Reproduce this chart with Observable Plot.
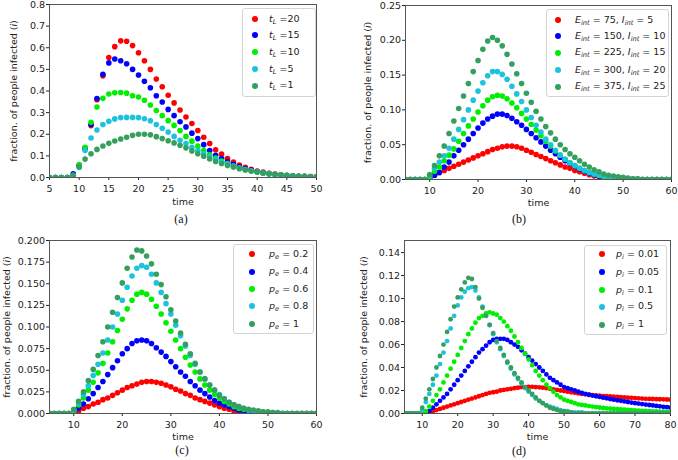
<!DOCTYPE html>
<html><head><meta charset="utf-8">
<script src="https://cdn.jsdelivr.net/npm/d3@7"></script>
<script src="https://cdn.jsdelivr.net/npm/@observablehq/plot@0.6"></script>
<style>
body{margin:0;background:#fff;}
#root{position:relative;width:678px;height:460px;font-family:"DejaVu Sans",sans-serif;overflow:hidden;}
.panel{position:absolute;}
.legend{position:absolute;border:1px solid #d4d4d4;border-radius:3px;background:rgba(255,255,255,0.85);box-sizing:border-box;}
.row{position:absolute;white-space:nowrap;font-size:9.5px;line-height:12px;color:#222;}
.row sub{font-size:70%;vertical-align:-0.3em;line-height:0;}
.sw{position:absolute;width:6px;height:6px;border-radius:50%;}
.cap{position:absolute;font-family:"Liberation Serif",serif;font-size:12px;line-height:13px;color:#111;transform:translate(-50%,-50%);}
</style></head>
<body><div id="root"></div>
<script>
// ---------- data ----------
const colors = ["#ff0000", "#0000ff", "#00ee00", "#1cc3de", "#35a05e"];

// (a) t = 5..50
const startA = 5;
const aRed    = [0,0,0,0,0.01,0.055,0.135,0.24,0.36,0.47,0.555,0.605,0.632,0.63,0.61,0.577,0.54,0.5,0.455,0.42,0.38,0.345,0.312,0.28,0.25,0.217,0.186,0.157,0.128,0.108,0.088,0.071,0.058,0.047,0.038,0.03,0.025,0.02,0.016,0.013,0.01,0.008,0.006,0.005,0.004,0.003];
const aBlue   = [0,0,0,0,0.017,0.055,0.135,0.245,0.365,0.477,0.53,0.548,0.54,0.526,0.5,0.474,0.445,0.415,0.378,0.349,0.315,0.286,0.258,0.234,0.205,0.18,0.152,0.125,0.103,0.088,0.073,0.061,0.05,0.041,0.034,0.027,0.022,0.018,0.014,0.011,0.009,0.007,0.005,0.004,0.003,0.002];
const aGreen  = [0,0,0,0,0.01,0.06,0.14,0.255,0.326,0.366,0.386,0.392,0.393,0.39,0.378,0.372,0.357,0.335,0.31,0.286,0.263,0.241,0.217,0.19,0.168,0.145,0.125,0.105,0.09,0.076,0.064,0.053,0.044,0.037,0.03,0.025,0.02,0.017,0.013,0.011,0.009,0.007,0.005,0.004,0.003,0.002];
const aCyan   = [0,0,0,0,0.008,0.046,0.125,0.183,0.22,0.245,0.26,0.271,0.277,0.278,0.278,0.277,0.272,0.262,0.245,0.228,0.21,0.19,0.172,0.157,0.14,0.125,0.11,0.096,0.083,0.072,0.062,0.052,0.044,0.037,0.031,0.025,0.021,0.017,0.014,0.011,0.009,0.007,0.005,0.004,0.003,0.002];
const aDgreen = [0,0,0,0,0.01,0.05,0.085,0.11,0.13,0.146,0.158,0.169,0.178,0.186,0.195,0.2,0.2,0.198,0.189,0.18,0.17,0.16,0.149,0.137,0.123,0.11,0.098,0.086,0.074,0.065,0.056,0.048,0.041,0.035,0.03,0.025,0.021,0.017,0.014,0.011,0.009,0.007,0.006,0.005,0.004,0.003];

// (b) t = 5..60
const startB = 5;
const bRed    = [0,0,0,0,0, 0.002,0.006,0.01,0.013,0.016, 0.019,0.022,0.025,0.028,0.031, 0.034,0.037,0.04,0.043,0.045, 0.047,0.048,0.048,0.047,0.045, 0.042,0.039,0.036,0.033,0.03, 0.027,0.024,0.021,0.018,0.016, 0.013,0.011,0.009,0.007,0.005, 0.004,0.003,0.002,0.001,0.001, 0,0,0,0,0, 0,0,0,0,0, 0];
const bBlue   = [0,0,0,0,0, 0.002,0.006,0.01,0.018,0.025, 0.034,0.042,0.05,0.058,0.066, 0.074,0.081,0.087,0.091,0.094, 0.094,0.092,0.088,0.083,0.078, 0.072,0.066,0.06,0.054,0.048, 0.042,0.037,0.032,0.027,0.023, 0.019,0.015,0.012,0.009,0.007, 0.005,0.004,0.003,0.002,0.001, 0.001,0,0,0,0, 0,0,0,0,0, 0];
const bGreen  = [0,0,0,0,0, 0.004,0.012,0.018,0.027,0.035, 0.044,0.055,0.066,0.077,0.087, 0.097,0.106,0.114,0.119,0.121, 0.12,0.116,0.11,0.103,0.095, 0.087,0.079,0.071,0.063,0.055, 0.048,0.041,0.035,0.029,0.024, 0.02,0.016,0.013,0.01,0.008, 0.006,0.004,0.003,0.002,0.002, 0.001,0.001,0,0,0, 0,0,0,0,0, 0];
const bCyan   = [0,0,0,0,0, 0.006,0.016,0.025,0.034,0.045, 0.058,0.072,0.086,0.1,0.114, 0.127,0.139,0.149,0.155,0.155, 0.151,0.144,0.134,0.123,0.112, 0.1,0.089,0.078,0.068,0.058, 0.05,0.042,0.035,0.029,0.024, 0.02,0.016,0.013,0.01,0.008, 0.006,0.005,0.004,0.003,0.002, 0.002,0.001,0.001,0.001,0, 0,0,0,0,0, 0];
const bDgreen = [0,0,0,0,0, 0.007,0.02,0.034,0.048,0.066, 0.084,0.102,0.12,0.138,0.155, 0.171,0.187,0.199,0.204,0.2, 0.192,0.18,0.166,0.152,0.138, 0.124,0.111,0.098,0.087,0.076, 0.067,0.058,0.05,0.043,0.037, 0.032,0.027,0.022,0.018,0.014, 0.011,0.008,0.006,0.005,0.004, 0.003,0.002,0.001,0.001,0, 0,0,0,0,0, 0];

// (c) t = 5..60
const startC = 5;
const cRed    = [0,0,0,0,0, 0.001,0.003,0.006,0.008,0.011, 0.013,0.016,0.018,0.021,0.024, 0.027,0.03,0.032,0.034,0.036, 0.037,0.037,0.036,0.035,0.033, 0.031,0.028,0.026,0.023,0.021, 0.018,0.016,0.014,0.012,0.01, 0.008,0.006,0.005,0.003,0.002, 0.002,0.001,0.001,0,0, 0,0,0,0,0, 0,0,0,0,0, 0];
const cBlue   = [0,0,0,0,0, 0.002,0.006,0.011,0.017,0.023, 0.03,0.037,0.045,0.053,0.061, 0.069,0.075,0.081,0.084,0.085, 0.084,0.081,0.076,0.071,0.066, 0.06,0.054,0.048,0.043,0.037, 0.032,0.027,0.023,0.019,0.015, 0.012,0.01,0.008,0.006,0.004, 0.003,0.002,0.001,0.001,0, 0,0,0,0,0, 0,0,0,0,0, 0];
const cGreen  = [0,0,0,0,0, 0.003,0.01,0.018,0.027,0.036, 0.047,0.058,0.07,0.083,0.096, 0.109,0.121,0.131,0.138,0.14, 0.138,0.132,0.124,0.115,0.105, 0.095,0.085,0.075,0.065,0.056, 0.048,0.04,0.033,0.027,0.022, 0.018,0.014,0.011,0.008,0.006, 0.005,0.004,0.003,0.002,0.001, 0.001,0,0,0,0, 0,0,0,0,0, 0];
const cCyan   = [0,0,0,0,0, 0.004,0.012,0.022,0.032,0.044, 0.057,0.07,0.085,0.1,0.115, 0.131,0.146,0.159,0.168,0.171, 0.169,0.161,0.151,0.14,0.127, 0.115,0.102,0.09,0.078,0.067, 0.057,0.048,0.04,0.033,0.027, 0.022,0.017,0.013,0.01,0.008, 0.006,0.004,0.003,0.002,0.002, 0.001,0.001,0,0,0, 0,0,0,0,0, 0];
const cDgreen = [0,0,0,0,0, 0.005,0.014,0.025,0.038,0.051, 0.067,0.083,0.1,0.117,0.134, 0.151,0.168,0.181,0.189,0.188, 0.182,0.173,0.161,0.149,0.135, 0.12,0.107,0.093,0.08,0.069, 0.058,0.048,0.04,0.033,0.027, 0.021,0.017,0.013,0.01,0.008, 0.006,0.005,0.004,0.003,0.002, 0.002,0.001,0.001,0,0, 0,0,0,0,0, 0];

// (d) t = 5..80
const startD = 5;
const dRed    = [0,0,0,0,0, 0,0,0.001,0.002,0.003, 0.004,0.005,0.006,0.007,0.008, 0.009,0.01,0.011,0.012,0.013, 0.014,0.015,0.016,0.017,0.018, 0.0185,0.019,0.02,0.0205,0.021, 0.0215,0.022,0.0225,0.023,0.023, 0.0232,0.0232,0.023,0.0228,0.0225, 0.022,0.0215,0.021,0.0205,0.02, 0.0195,0.019,0.0185,0.018,0.0175, 0.017,0.0167,0.0163,0.016,0.0157, 0.0155,0.0152,0.015,0.0148,0.0146, 0.0144,0.0142,0.014,0.0138,0.0136, 0.0134,0.0132,0.013,0.0128,0.0127, 0.0126,0.0125,0.0124,0.0123,0.0122, 0.012];
const dBlue   = [0,0,0,0,0, 0,0,0.002,0.005,0.008, 0.011,0.014,0.017,0.021,0.025, 0.029,0.033,0.037,0.041,0.045, 0.049,0.053,0.056,0.059,0.062, 0.064,0.065,0.065,0.065,0.064, 0.062,0.06,0.058,0.055,0.052, 0.049,0.046,0.043,0.04,0.037, 0.034,0.031,0.029,0.027,0.025, 0.023,0.022,0.021,0.02,0.019, 0.018,0.017,0.0163,0.0156,0.015, 0.0144,0.0138,0.0132,0.0126,0.012, 0.0115,0.011,0.0105,0.01,0.0095, 0.009,0.0086,0.0082,0.0078,0.0074, 0.007,0.0066,0.0062,0.0058,0.0055, 0.0052];
const dGreen  = [0,0,0,0,0, 0,0.002,0.006,0.011,0.016, 0.021,0.027,0.033,0.039,0.045, 0.051,0.057,0.063,0.069,0.074, 0.079,0.083,0.085,0.087,0.088, 0.087,0.086,0.083,0.08,0.076, 0.072,0.067,0.062,0.057,0.052, 0.047,0.042,0.037,0.033,0.029, 0.025,0.022,0.019,0.016,0.014, 0.012,0.011,0.01,0.009,0.008, 0.0075,0.007,0.0065,0.006,0.0056, 0.0052,0.0048,0.0045,0.0042,0.004, 0.0037,0.0035,0.0033,0.0031,0.0029, 0.0027,0.0025,0.0023,0.0022,0.002, 0.0019,0.0018,0.0017,0.0016,0.0015, 0.0014];
const dCyan   = [0,0,0,0,0, 0.003,0.01,0.017,0.025,0.033, 0.043,0.053,0.063,0.074,0.085, 0.094,0.101,0.106,0.109,0.11, 0.107,0.101,0.093,0.085,0.077, 0.069,0.062,0.056,0.05,0.044, 0.039,0.034,0.03,0.026,0.022, 0.019,0.016,0.013,0.011,0.009, 0.007,0.006,0.005,0.004,0.003, 0.002,0.002,0.001,0.001,0.001, 0.001,0,0,0,0, 0,0,0,0,0, 0,0,0,0,0, 0,0,0,0,0, 0,0,0,0,0, 0];
const dDgreen = [0,0,0,0,0, 0.005,0.013,0.021,0.03,0.04, 0.05,0.06,0.071,0.082,0.093, 0.101,0.108,0.114,0.118,0.117, 0.11,0.1,0.092,0.085,0.077, 0.07,0.063,0.057,0.051,0.045, 0.04,0.035,0.031,0.027,0.023, 0.02,0.017,0.014,0.011,0.009, 0.007,0.005,0.004,0.003,0.002, 0.002,0.001,0.001,0,0, 0,0,0,0,0, 0,0,0,0,0, 0,0,0,0,0, 0,0,0,0,0, 0,0,0,0,0, 0];

// ticks
const xTicksA = [5,10,15,20,25,30,35,40,45,50];
const yTicksA = [0,0.1,0.2,0.3,0.4,0.5,0.6,0.7,0.8];
const xTicksB = [10,20,30,40,50,60];
const yTicksB = [0,0.05,0.1,0.15,0.2,0.25];
const xTicksC = [10,20,30,40,50,60];
const yTicksC = [0,0.025,0.05,0.075,0.1,0.125,0.15,0.175,0.2];
const xTicksD = [10,20,30,40,50,60,70,80];
const yTicksD = [0,0.02,0.04,0.06,0.08,0.1,0.12,0.14];

// legend labels
const legendA = ["<i>t</i><sub><i>L</i></sub> =20","<i>t</i><sub><i>L</i></sub> =15","<i>t</i><sub><i>L</i></sub> =10","<i>t</i><sub><i>L</i></sub> =5","<i>t</i><sub><i>L</i></sub> =1"];
const legendB = [
  "<i>E<sub>int</sub></i> = 75, <i>I<sub>int</sub></i> = 5",
  "<i>E<sub>int</sub></i> = 150, <i>I<sub>int</sub></i> = 10",
  "<i>E<sub>int</sub></i> = 225, <i>I<sub>int</sub></i> = 15",
  "<i>E<sub>int</sub></i> = 300, <i>I<sub>int</sub></i> = 20",
  "<i>E<sub>int</sub></i> = 375, <i>I<sub>int</sub></i> = 25"];
const legendC = ["<i>p<sub>e</sub></i> = 0.2","<i>p<sub>e</sub></i> = 0.4","<i>p<sub>e</sub></i> = 0.6","<i>p<sub>e</sub></i> = 0.8","<i>p<sub>e</sub></i> = 1"];
const legendD = ["<i>p<sub>i</sub></i> = 0.01","<i>p<sub>i</sub></i> = 0.05","<i>p<sub>i</sub></i> = 0.1","<i>p<sub>i</sub></i> = 0.5","<i>p<sub>i</sub></i> = 1"];

const yLabel = "fraction. of people infected (i)";
const xLabel = "time";
const captions = ["(a)","(b)","(c)","(d)"];

// ---------- build ----------
const root = document.getElementById("root");
function rows(start, arrs) {
  return arrs.flatMap((arr, k) => arr.map((v, i) => ({t: start + i, v, s: k})));
}

function makePanel(o) {
  const chart = Plot.plot({
    width: 339, height: 230,
    marginLeft: o.ml, marginRight: o.mr, marginTop: o.mt, marginBottom: o.mb,
    style: {fontFamily: "DejaVu Sans, sans-serif", fontSize: "9.5px", color: "#222", background: "transparent"},
    x: {domain: o.xd, ticks: o.xt, tickSize: 3, tickPadding: 4.5, label: null},
    y: {domain: o.yd, ticks: o.yt, tickFormat: d3.format(o.yf), tickSize: 3, tickPadding: 1.5, label: null},
    color: {type: "ordinal", domain: [0,1,2,3,4], range: colors},
    marks: [
      Plot.dot(o.data, {x: "t", y: "v", fill: "s", r: o.r, clip: true}),
      Plot.frame({stroke: "#555"}),
      Plot.text([xLabel], {frameAnchor: "bottom", dy: o.xdy, fill: "#222", textAnchor: "middle", lineAnchor: "middle"}),
      Plot.text([yLabel], {frameAnchor: "left", rotate: -90, dx: o.ydx, fill: "#222", textAnchor: "middle", lineAnchor: "middle"})
    ]
  });
  // italic i in axis label
  for (const t of chart.querySelectorAll("text")) {
    if (t.textContent === yLabel) {
      t.textContent = "";
      const ns = "http://www.w3.org/2000/svg";
      const a = document.createElementNS(ns, "tspan"); a.textContent = "fraction. of people infected (";
      const b = document.createElementNS(ns, "tspan"); b.textContent = "i"; b.setAttribute("font-style", "italic");
      const c = document.createElementNS(ns, "tspan"); c.textContent = ")";
      t.append(a, b, c);
    }
  }
  const wrap = document.createElement("div");
  wrap.className = "panel";
  wrap.style.left = o.left + "px"; wrap.style.top = o.top + "px";
  wrap.appendChild(chart);
  root.appendChild(wrap);

  // legend
  const lg = document.createElement("div");
  lg.className = "legend";
  Object.assign(lg.style, {left: o.lg.x + "px", top: o.lg.y + "px", width: o.lg.w + "px", height: o.lg.h + "px"});
  root.appendChild(lg);
  o.labels.forEach((lab, k) => {
    const y = o.lg.rows[k];
    const sw = document.createElement("div");
    sw.className = "sw";
    Object.assign(sw.style, {left: (o.lg.mx - 3) + "px", top: (y - 3) + "px", background: colors[k]});
    root.appendChild(sw);
    const r = document.createElement("div");
    r.className = "row";
    r.innerHTML = lab;
    Object.assign(r.style, {left: o.lg.tx + "px", top: (y - 6.5) + "px"});
    root.appendChild(r);
  });

  const cap = document.createElement("div");
  cap.className = "cap";
  cap.textContent = o.cap;
  cap.style.left = o.capx + "px"; cap.style.top = o.capy + "px";
  root.appendChild(cap);
}

makePanel({
  left: 0, top: 0, ml: 49, mr: 23, mt: 4, mb: 53,
  xd: [5, 50], yd: [0, 0.8], xt: xTicksA, yt: yTicksA, yf: ".1f", r: 2.8, ydx: -36, xdy: 24,
  data: rows(startA, [aRed, aBlue, aGreen, aCyan, aDgreen]),
  labels: legendA,
  lg: {x: 242, y: 8, w: 74, h: 89, rows: [19.3, 35, 52, 69, 85.7], mx: 255, tx: 269},
  cap: captions[0], capx: 181, capy: 218.5
});
makePanel({
  left: 339, top: 0, ml: 66, mr: 7, mt: 5, mb: 51,
  xd: [5, 60], yd: [0, 0.25], xt: xTicksB, yt: yTicksB, yf: ".2f", r: 2.8, ydx: -38, xdy: 23,
  data: rows(startB, [bRed, bBlue, bGreen, bCyan, bDgreen]),
  labels: legendB,
  lg: {x: 546, y: 9, w: 123, h: 88, rows: [20, 36, 52.7, 70, 86.7], mx: 558, tx: 575},
  cap: captions[1], capx: 519, capy: 218.5
});
makePanel({
  left: 0, top: 230, ml: 49, mr: 23, mt: 10, mb: 47,
  xd: [5, 60], yd: [0, 0.2], xt: xTicksC, yt: yTicksC, yf: ".3f", r: 2.8, ydx: -43, xdy: 23,
  data: rows(startC, [cRed, cBlue, cGreen, cCyan, cDgreen]),
  labels: legendC,
  lg: {x: 233, y: 244, w: 81, h: 90, rows: [254, 271.7, 289.3, 306, 324.3], mx: 252, tx: 269},
  cap: captions[2], capx: 182, capy: 449.5
});
makePanel({
  left: 339, top: 230, ml: 65, mr: 8, mt: 10, mb: 47,
  xd: [5, 80], yd: [0, 0.1505], xt: xTicksD, yt: yTicksD, yf: ".2f", r: 2.4, ydx: -41, xdy: 23,
  data: rows(startD, [dRed, dBlue, dGreen, dCyan, dDgreen]),
  labels: legendD,
  lg: {x: 584, y: 245, w: 83, h: 90, rows: [254, 272, 290, 306.7, 324.7], mx: 602, tx: 616},
  cap: captions[3], capx: 519, capy: 450.5
});
</script>
</body></html>
